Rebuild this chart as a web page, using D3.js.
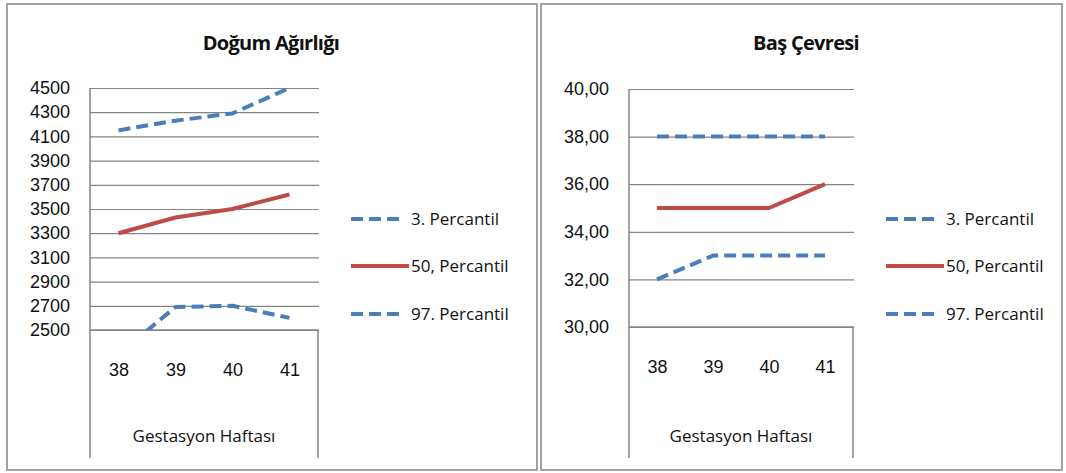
<!DOCTYPE html>
<html>
<head>
<meta charset="utf-8">
<script src="https://cdn.jsdelivr.net/npm/d3@7"></script>
<style>
  body { margin: 0; background: #fff; }
  svg { display: block; font-family: "Open Sans", "DejaVu Sans", sans-serif; }
  .tick text { fill: #111; }
</style>
</head>
<body>
<script>
// values
const weeks = ["38", "39", "40", "41"];
const seriesNames = ["3. Percantil", "50, Percantil", "97. Percantil"];

const weightP3 = [2300, 2690, 2700, 2600];
const weightP50 = [3300, 3430, 3500, 3620];
const weightP97 = [4150, 4230, 4290, 4500];
const weightTicks = [2500, 2700, 2900, 3100, 3300, 3500, 3700, 3900, 4100, 4300, 4500];

const headP3 = [32, 33, 33, 33];
const headP50 = [35, 35, 35, 36];
const headP97 = [38, 38, 38, 38];
const headTicks = [30, 32, 34, 36, 38, 40];

const blue = "#4a7ebb",
  red = "#be4b48",
  grid = "#858585";

const trLocale = d3.formatLocale({ decimal: ",", thousands: ".", grouping: [3], currency: ["", ""] });

const svg = d3
  .select("body")
  .append("svg")
  .attr("width", 1066)
  .attr("height", 473);

const panels = [
  {
    id: "weight",
    title: "Doğum Ağırlığı",
    box: { x: 7, y: 4, w: 530, h: 466 },
    plot: { left: 90, right: 318, top: 88, bottom: 330, floor: 458 },
    titleX: 271,
    legendX: 351,
    domain: [2500, 4500],
    ticks: weightTicks,
    format: d => String(d),
    series: [weightP3, weightP50, weightP97]
  },
  {
    id: "head",
    title: "Baş Çevresi",
    box: { x: 541, y: 4, w: 521, h: 466 },
    plot: { left: 629, right: 853, top: 89, bottom: 327, floor: 458 },
    titleX: 806,
    legendX: 886,
    domain: [30, 40],
    ticks: headTicks,
    format: trLocale.format(".2f"),
    series: [headP3, headP50, headP97]
  }
];

const styles = [
  { color: blue, dash: "12,6" },
  { color: red, dash: null },
  { color: blue, dash: "12,6" }
];

panels.forEach(p => {
  const g = svg.append("g").attr("id", p.id);
  const pl = p.plot;

  g.append("rect")
    .attr("x", p.box.x)
    .attr("y", p.box.y)
    .attr("width", p.box.w)
    .attr("height", p.box.h)
    .attr("fill", "#fff")
    .attr("stroke", "#a3a3a3")
    .attr("stroke-width", 2);

  g.append("text")
    .attr("x", p.titleX)
    .attr("y", 50)
    .attr("text-anchor", "middle")
    .attr("font-size", 20)
    .attr("font-weight", "bold")
    .attr("letter-spacing", -0.7)
    .attr("fill", "#111")
    .text(p.title);

  const x = d3
    .scalePoint()
    .domain(weeks)
    .range([pl.left, pl.right])
    .padding(0.5);

  const y = d3
    .scaleLinear()
    .domain(p.domain)
    .range([pl.bottom, pl.top]);

  // value axis + gridlines
  const yAxis = g
    .append("g")
    .attr("transform", `translate(${pl.left},0)`)
    .call(
      d3
        .axisLeft(y)
        .tickValues(p.ticks)
        .tickFormat(p.format)
        .tickSize(-(pl.right - pl.left + 1))
        .tickPadding(20)
    );
  yAxis.select(".domain").remove();
  yAxis.selectAll(".tick line").attr("stroke", grid).attr("stroke-width", 1.2);
  yAxis.selectAll(".tick text").attr("font-size", 18).attr("font-family", null);

  // frame lines of the plot and the category box below it
  const frame = d3.path();
  frame.moveTo(pl.left, pl.top);
  frame.lineTo(pl.left, pl.floor);
  frame.moveTo(pl.left, pl.bottom);
  frame.lineTo(pl.right, pl.bottom);
  frame.lineTo(pl.right, pl.floor);
  g.append("path")
    .attr("d", frame.toString())
    .attr("fill", "none")
    .attr("stroke", grid)
    .attr("stroke-width", 1.5);

  // category axis
  const xAxis = g
    .append("g")
    .attr("transform", `translate(0,${pl.bottom})`)
    .call(d3.axisBottom(x).tickSize(0).tickPadding(33));
  xAxis.select(".domain").remove();
  xAxis.selectAll(".tick text").attr("font-size", 18).attr("font-family", null);

  g.append("text")
    .attr("x", (pl.left + pl.right) / 2)
    .attr("y", 442)
    .attr("text-anchor", "middle")
    .attr("font-size", 17)
    .attr("fill", "#111")
    .text("Gestasyon Haftası");

  // lines, clipped to the plot area
  g.append("clipPath")
    .attr("id", `clip-${p.id}`)
    .append("rect")
    .attr("x", pl.left)
    .attr("y", pl.top - 10)
    .attr("width", pl.right - pl.left)
    .attr("height", pl.bottom - pl.top + 10);

  const line = d3
    .line()
    .x((d, i) => x(weeks[i]))
    .y(d => y(d));

  const lines = g.append("g").attr("clip-path", `url(#clip-${p.id})`);
  p.series.forEach((s, i) => {
    lines
      .append("path")
      .datum(s)
      .attr("d", line)
      .attr("fill", "none")
      .attr("stroke", styles[i].color)
      .attr("stroke-width", 4)
      .attr("stroke-dasharray", styles[i].dash)
      .attr("stroke-linejoin", "round");
  });

  // legend
  const legendY = [219, 266, 314];
  seriesNames.forEach((name, i) => {
    const row = g.append("g").attr("transform", `translate(${p.legendX},${legendY[i]})`);
    row.append("line")
      .attr("x1", 0)
      .attr("x2", styles[i].dash ? 48 : 58)
      .attr("stroke", styles[i].color)
      .attr("stroke-width", 4)
      .attr("stroke-dasharray", styles[i].dash);
    row.append("text")
      .attr("x", 60)
      .attr("dy", "0.35em")
      .attr("font-size", 17)
      .attr("fill", "#111")
      .text(name);
  });
});
</script>
</body>
</html>
